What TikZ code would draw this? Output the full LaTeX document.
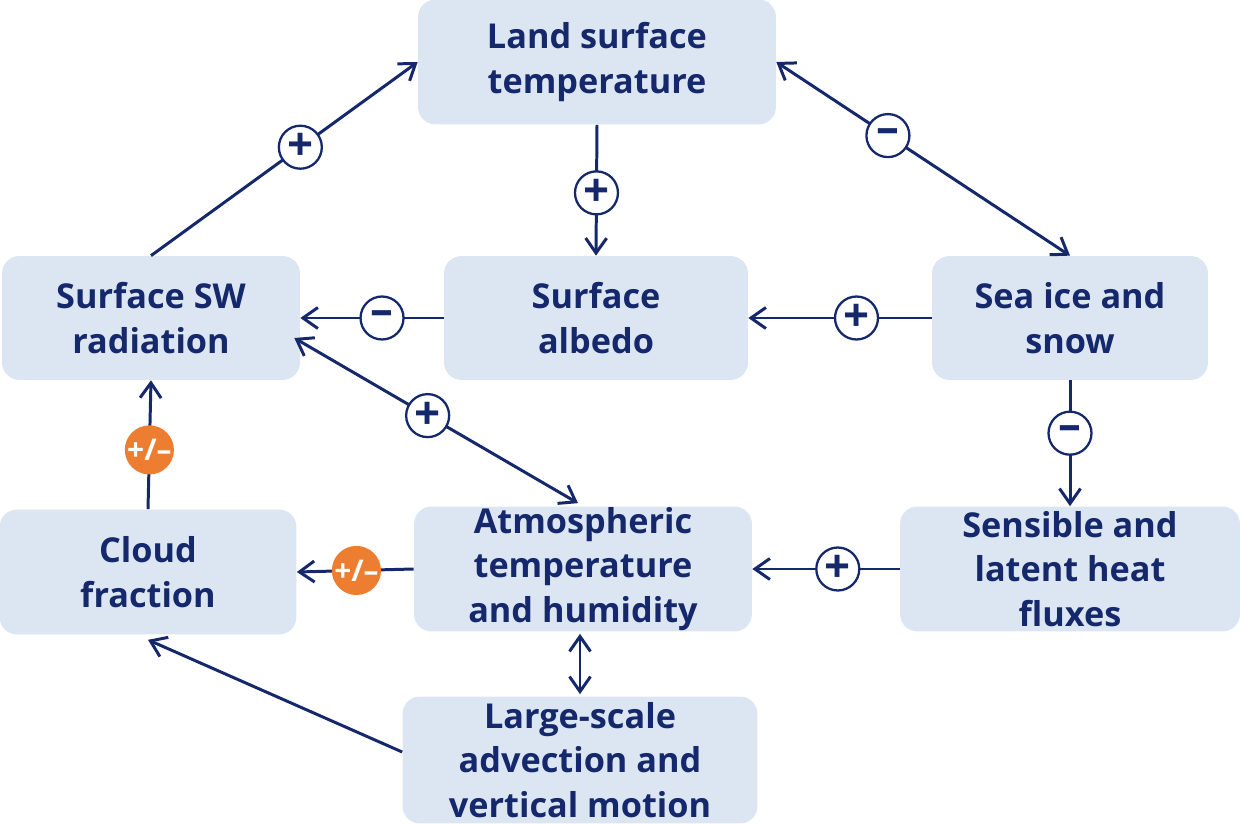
\documentclass[tikz,border=0pt]{standalone}
\usepackage{fontspec}
\setmainfont{Open Sans}
\usetikzlibrary{calc,arrows.meta}
\definecolor{navy}{HTML}{14286B}
\definecolor{boxfill}{HTML}{DCE6F2}
\definecolor{orng}{HTML}{ED7D31}
\begin{document}
\begin{tikzpicture}[x=0.02cm,y=-0.02cm,
 box/.style={fill=boxfill,rounded corners=0.35cm,align=center,text=navy,
   font=\fontsize{19.5}{25.5}\selectfont\bfseries,inner sep=0pt},
 arr/.style={draw=navy,line width=1.7pt,-{Straight Barb[length=3mm,width=4.2mm,line width=1.7pt]}},
 darr/.style={arr,{Straight Barb[length=3mm,width=4.2mm,line width=1.7pt]}-{Straight Barb[length=3mm,width=4.2mm,line width=1.7pt]}},
 sgn/.style={circle,draw=navy,line width=1.3pt,fill=white,text=navy,minimum size=0.86cm,inner sep=0pt,
   font=\fontsize{26}{26}\selectfont\bfseries},
 osgn/.style={circle,fill=orng,text=white,minimum size=0.86cm,inner sep=0pt,
   font=\fontsize{17}{17}\selectfont\bfseries}]
\useasboundingbox (0,0) rectangle (1241,824);
\node[box,minimum width=7.16cm,minimum height=2.5cm] (land) at (597,62) {Land surface\\temperature};
\node[box,minimum width=5.96cm,minimum height=2.48cm] (sw) at (151,318) {Surface SW\\radiation};
\node[box,minimum width=6.08cm,minimum height=2.48cm] (alb) at (596,318) {Surface\\albedo};
\node[box,minimum width=5.52cm,minimum height=2.48cm] (sea) at (1070,318) {Sea ice and\\snow};
\node[box,minimum width=5.94cm,minimum height=2.5cm] (cloud) at (148,572) {Cloud\\fraction};
\node[box,minimum width=6.76cm,minimum height=2.5cm] (atm) at (583,569) {Atmospheric\\temperature\\and humidity};
\node[box,minimum width=6.8cm,minimum height=2.5cm] (sens) at (1070,569) {Sensible and\\latent heat\\fluxes};
\node[box,minimum width=7.1cm,minimum height=2.54cm] (large) at (580,760) {Large-scale\\advection and\\vertical motion};

\draw[arr] (sw.north) -- node[sgn,pos=0.56] (s1) {+} (land.west);
\draw[arr] (land.south) -- node[sgn,pos=0.52] (s2) {+} (alb.north);
\draw[darr] (land.east) -- node[sgn,pos=0.38] (s3) {–} (sea.north);
\draw[arr] (alb.west) -- node[sgn,pos=0.43] (s4) {–} (sw.east);
\draw[arr] (sea.west) -- node[sgn,pos=0.41] (s5) {+} (alb.east);
\draw[arr] (sea.south) -- node[sgn,pos=0.42] (s6) {–} (sens.north);
\draw[arr] (sens.west) -- node[sgn,pos=0.42] (s7) {+} (atm.east);
\draw[arr] (atm.west) -- node[osgn,pos=0.49] (s8) {+/–} (cloud.east);
\draw[arr] (cloud.north) -- node[osgn,pos=0.46] (s9) {+/–} (sw.south);
\draw[darr] ($(sw.east)+(-6,20)$) -- node[sgn,pos=0.47] (s10) {+} ($(atm.north)+(-5,-3)$);
\draw[darr] ($(atm.south)+(-3,2)$) -- ($(large.north)+(0,-2)$);
\draw[arr] ($(large.west)+(0,-8)$) -- ($(cloud.south)+(0,5)$);
\end{tikzpicture}
\end{document}
